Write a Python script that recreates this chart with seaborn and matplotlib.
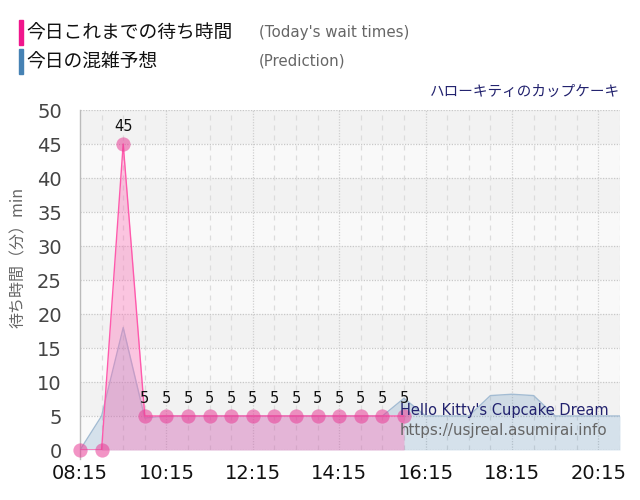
import matplotlib
matplotlib.use("Agg")
import matplotlib.pyplot as plt
from matplotlib.patches import Rectangle
import seaborn as sns
import pandas as pd

# ---- data ----
actual_times = ["08:15", "08:45", "09:15", "09:45", "10:15", "10:45", "11:15", "11:45",
                "12:15", "12:45", "13:15", "13:45", "14:15", "14:45", "15:15", "15:45"]
actual_waits = [0, 0, 45, 5, 5, 5, 5, 5, 5, 5, 5, 5, 5, 5, 5, 5]

pred_times = ["08:15", "08:45", "09:15", "09:45", "10:15", "10:45", "11:15", "11:45",
              "12:15", "12:45", "13:15", "13:45", "14:15", "14:45", "15:15", "15:45",
              "16:15", "16:45", "17:15", "17:45", "18:15", "18:45", "19:15", "19:45",
              "20:15", "20:45"]
pred_waits = [0, 5, 18, 4.7, 5, 5, 5, 5, 5, 5, 5, 5, 5, 5, 5, 7.6,
              5, 5, 5, 8, 8.2, 8, 5, 5, 5, 5]

tick_labels = ["08:15", "10:15", "12:15", "14:15", "16:15", "18:15", "20:15"]
y_ticks = [0, 5, 10, 15, 20, 25, 30, 35, 40, 45, 50]

legend_jp = ["今日これまでの待ち時間", "今日の混雑予想"]
legend_en = ["(Today's wait times)", "(Prediction)"]
title_text = "ハローキティのカップケーキ"
attraction_en = "Hello Kitty's Cupcake Dream"
site_url = "https://usjreal.asumirai.info"
y_label = "待ち時間（分）min"


def to_min(t):
    h, m = t.split(":")
    return int(h) * 60 + int(m)


actual = pd.DataFrame({"t": [to_min(t) for t in actual_times], "wait": actual_waits})
pred = pd.DataFrame({"t": [to_min(t) for t in pred_times], "wait": pred_waits})

sns.set_theme(style="white")
plt.rcParams["font.family"] = ["DejaVu Sans", "Noto Sans CJK JP"]
JP = ["Noto Sans CJK JP", "DejaVu Sans"]

fig = plt.figure(figsize=(6.4, 5.0), dpi=100)
fig.patch.set_facecolor("white")
ax = fig.add_axes([80 / 640, 50 / 500, 540 / 640, 340 / 500])

x0, x1 = to_min("08:15"), to_min("20:45")
ax.set_xlim(x0, x1)
ax.set_ylim(0, 50)

# background bands
for i in range(10):
    lo = i * 5
    ax.axhspan(lo, lo + 5, color="#f2f2f2" if i % 2 == 1 else "#f9f9f9", zorder=0, lw=0)

# grid lines
for y in y_ticks:
    ax.axhline(y, color="#c8c8c8", lw=0.9, ls=(0, (1, 1.2)), zorder=1)
tick_pos = [to_min(t) for t in tick_labels]
for xm in range(x0 + 30, x1 + 1, 30):
    if xm in tick_pos:
        ax.axvline(xm, color="#d0d0d0", lw=0.9, ls=(0, (1, 1.2)), zorder=1)
    else:
        ax.axvline(xm, color="#dcdcdc", lw=0.9, ls=(0, (4, 4)), zorder=1)

# prediction area
ax.fill_between(pred["t"], 0, pred["wait"], color="#4682b4", alpha=0.2, lw=0, zorder=2)
sns.lineplot(data=pred, x="t", y="wait", ax=ax, color="#a3bcd3", lw=1.0, zorder=3)

# actual area
act_fill = actual[actual["t"] >= to_min("08:45")]
ax.fill_between(act_fill["t"], 0, act_fill["wait"], color="#ff69b4", alpha=0.36, lw=0, zorder=4)
sns.lineplot(data=actual, x="t", y="wait", ax=ax, color="#ff5aac", lw=1.0, zorder=5)
sns.scatterplot(data=actual, x="t", y="wait", ax=ax, color="#e83d96", alpha=0.55,
                s=105, linewidth=0, zorder=6, clip_on=False)

for t, w in zip(actual["t"], actual["wait"]):
    if w > 0:
        ax.text(t, w + 1.5, str(w), ha="center", va="bottom", fontsize=10.5,
                color="#111111", zorder=7)

# axes styling
for s in ["top", "right", "bottom"]:
    ax.spines[s].set_visible(False)
ax.spines["left"].set_color("#bbbbbb")
ax.spines["left"].set_linewidth(1.0)
ax.spines["left"].set_bounds(-1.3, 50)
ax.set_xticks(tick_pos)
ax.set_xticklabels(tick_labels, fontsize=14, color="#111111")
ax.set_yticks(y_ticks)
ax.set_yticklabels([str(v) for v in y_ticks], fontsize=14, color="#444444")
ax.tick_params(axis="x", length=7, color="#dddddd", pad=3)
ax.tick_params(axis="y", length=0, pad=13)
ax.set_xlabel("")
ax.set_ylabel("")

# y label
fig.text(18 / 640, 1 - 257 / 500, y_label, rotation=90, ha="center", va="center",
         fontsize=11.5, color="#666666", family=JP)

# legend at top
fig.patches.append(Rectangle((19 / 640, 1 - 45 / 500), 4 / 640, 25 / 500,
                             transform=fig.transFigure, color="#f0168c", figure=fig))
fig.patches.append(Rectangle((19 / 640, 1 - 74 / 500), 4 / 640, 25 / 500,
                             transform=fig.transFigure, color="#4682b4", figure=fig))
fig.text(26 / 640, 1 - 33 / 500, legend_jp[0], ha="left", va="center", fontsize=13.5,
         color="#111111", family=JP)
fig.text(26 / 640, 1 - 62 / 500, legend_jp[1], ha="left", va="center", fontsize=13.5,
         color="#111111", family=JP)
fig.text(259 / 640, 1 - 32 / 500, legend_en[0], ha="left", va="center", fontsize=10.8,
         color="#666666")
fig.text(259 / 640, 1 - 61 / 500, legend_en[1], ha="left", va="center", fontsize=10.8,
         color="#666666")

fig.text(620 / 640, 1 - 92 / 500, title_text, ha="right", va="center", fontsize=10.5,
         color="#22226e", family=JP)

fig.text(400 / 640, 1 - 411 / 500, attraction_en, ha="left", va="center", fontsize=10.5,
         color="#22226e", zorder=10)
fig.text(400 / 640, 1 - 431 / 500, site_url, ha="left", va="center", fontsize=10.9,
         color="#666666", zorder=10)

fig.savefig("out.png", dpi=100)
